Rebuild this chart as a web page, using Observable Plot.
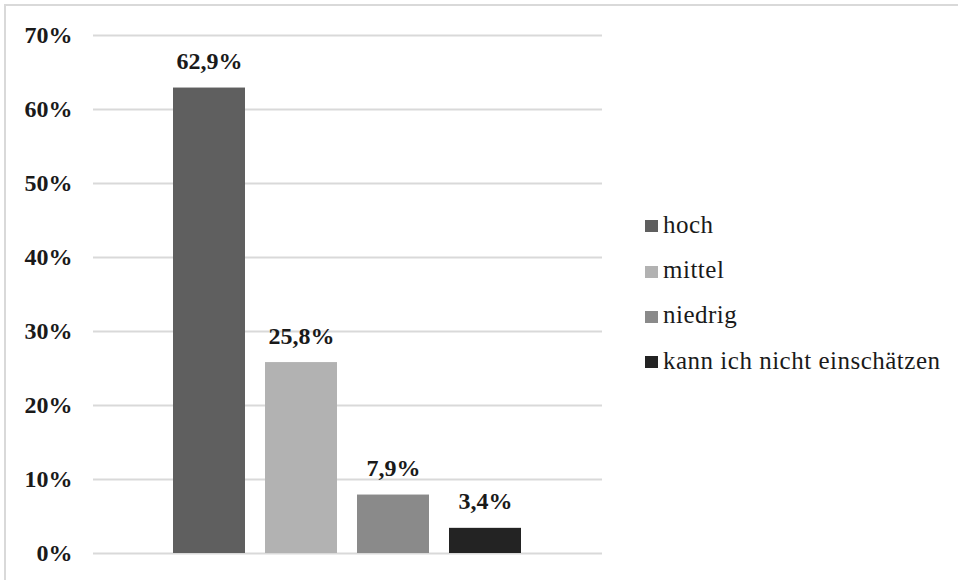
<!DOCTYPE html>
<html>
<head>
<meta charset="utf-8">
<script src="https://cdn.jsdelivr.net/npm/d3@7"></script>
<script src="https://cdn.jsdelivr.net/npm/@observablehq/plot@0.6"></script>
<style>
  html, body { margin: 0; padding: 0; background: #fff; }
  #wrap { position: relative; width: 958px; height: 580px; overflow: hidden; font-family: 'Liberation Serif', 'DejaVu Serif', 'Times New Roman', Times, serif; }
  #border { position: absolute; left: 4px; top: 4px; width: 960px; height: 600px; border-top: 2px solid #d9d9d9; border-left: 2px solid #d9d9d9; box-sizing: border-box; }
  #chart { position: absolute; left: 0; top: 0; }
  #chart svg, #chart svg text { font-family: 'Liberation Serif', 'DejaVu Serif', 'Times New Roman', Times, serif !important; }
  #legend { position: absolute; left: 645px; top: 202px; }
  .item { display: flex; align-items: center; height: 45.4px; font-size: 25px; letter-spacing: 0.5px; color: #1a1a1a; white-space: nowrap; }
  .sw { width: 13px; height: 12px; margin-right: 5px; margin-top: 3px; }
</style>
</head>
<body>
<div id="wrap">
  <div id="border"></div>
  <div id="chart"></div>
  <div id="legend"></div>
</div>
<script>
const categories = ["hoch", "mittel", "niedrig", "kann ich nicht einschätzen"];
const values = [62.9, 25.8, 7.9, 3.4];
const yTicks = [0, 10, 20, 30, 40, 50, 60, 70];
const colors = ["#5f5f5f", "#b2b2b2", "#8a8a8a", "#232323"];

const data = categories.map((c, i) => ({category: c, value: values[i]}));
const fmt = v => v.toFixed(1).replace(".", ",") + "%";

const chart = Plot.plot({
  width: 958,
  height: 580,
  marginLeft: 93,
  marginRight: 356,
  marginTop: 35,
  marginBottom: 27,
  style: {background: "transparent"},
  x: {domain: categories, paddingInner: 0.216, paddingOuter: 0.86, axis: null},
  y: {domain: [0, 70], axis: null},
  color: {domain: categories, range: colors},
  marks: [
    Plot.ruleY(yTicks, {stroke: "#d9d9d9", strokeWidth: 2}),
    Plot.barY(data, {x: "category", y: "value", fill: "category"}),
    Plot.text(data, {x: "category", y: "value", text: d => fmt(d.value), lineAnchor: "bottom", dy: -19, fontSize: 24, fontWeight: "bold", fill: "#1a1a1a"}),
    Plot.axisY(yTicks, {tickSize: 0, tickPadding: 21, tickFormat: d => d + "%", fontSize: 24, fontWeight: "bold", fill: "#1a1a1a", label: null})
  ]
});
document.getElementById("chart").appendChild(chart);

const legend = document.getElementById("legend");
categories.forEach((c, i) => {
  const item = document.createElement("div");
  item.className = "item";
  const sw = document.createElement("span");
  sw.className = "sw";
  sw.style.background = colors[i];
  const t = document.createElement("span");
  t.textContent = c;
  item.appendChild(sw);
  item.appendChild(t);
  legend.appendChild(item);
});
</script>
</body>
</html>
